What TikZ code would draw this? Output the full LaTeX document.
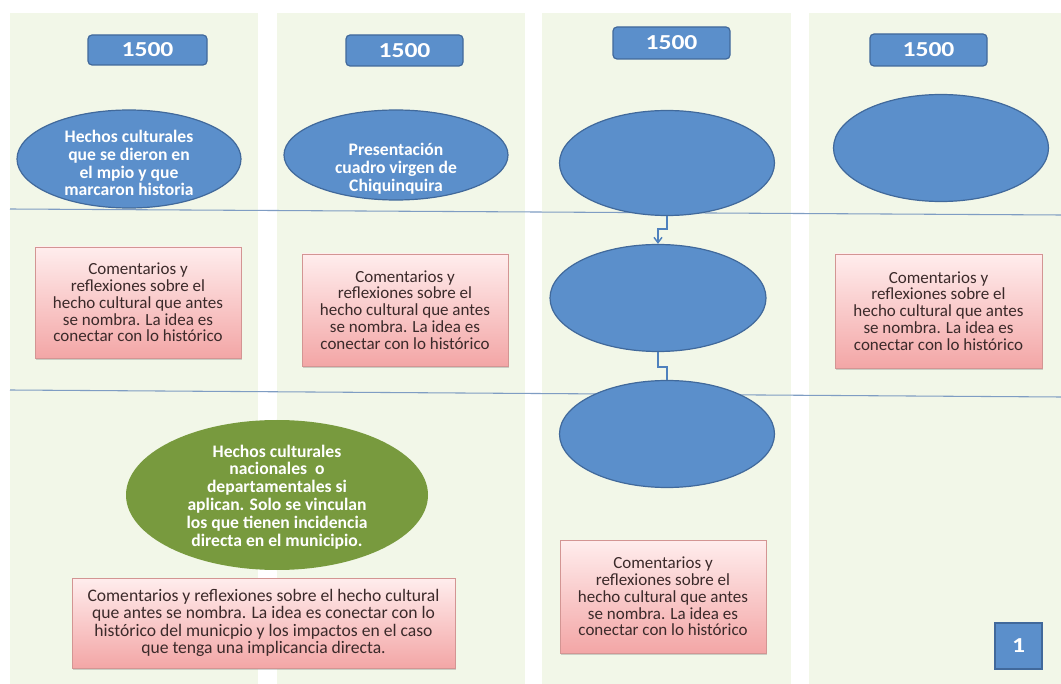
\documentclass[tikz,border=0pt]{standalone}
\usepackage{fontspec}
\setmainfont{Carlito}
\newfontfamily\yearfont{Carlito}[FakeStretch=1.2]
\usetikzlibrary{shapes.geometric,arrows.meta,shadows}
\definecolor{panelbg}{HTML}{F2F7E8}
\definecolor{bluefill}{HTML}{5B8FCB}
\definecolor{blueline}{HTML}{41699B}
\definecolor{greenfill}{HTML}{789A3E}
\definecolor{pinktop}{HTML}{FFEDED}
\definecolor{pinkbot}{HTML}{F3A6A6}
\definecolor{pinkline}{HTML}{D39593}
\definecolor{pinktext}{HTML}{3B2A2A}
\definecolor{sepline}{HTML}{7F9DC3}
\definecolor{connline}{HTML}{4F81BD}
\tikzset{
  yearbox/.style={draw=blueline, fill=bluefill, line width=0.9pt, rounded corners=3pt,
    text=white, font=\yearfont\bfseries\fontsize{16pt}{18pt}\selectfont, inner sep=0pt},
  blueell/.style={ellipse, draw=blueline, fill=bluefill, line width=0.9pt, inner sep=0pt},
  greenell/.style={ellipse, draw=none, fill=greenfill, inner sep=0pt},
  elltext/.style={text=white, font=\bfseries\fontsize{13.2pt}{13.4pt}\selectfont, align=center, inner sep=0pt},
  pinkbox/.style={draw=pinkline, line width=0.6pt, top color=pinktop, bottom color=pinkbot,
    text=pinktext, font=\fontsize{12.75pt}{12.6pt}\selectfont, align=center, inner sep=0pt,
    drop shadow={shadow xshift=0.8pt, shadow yshift=-1.2pt, opacity=0.35}},
  badge/.style={draw=blueline, fill=bluefill, line width=1pt, text=white,
    font=\yearfont\bfseries\fontsize{16pt}{18pt}\selectfont, inner sep=0pt,
    minimum width=35.25pt, minimum height=34.5pt},
  conn/.style={draw=connline, line width=1.1pt},
  sep/.style={draw=sepline, line width=0.8pt},
}
\begin{document}
\begin{tikzpicture}[x=0.75pt,y=-0.75pt]
\useasboundingbox (0,0) rectangle (1061,684);
\fill[white] (0,0) rectangle (1061,684);
% panels
\fill[panelbg] (10,13) rectangle (258,684);
\fill[panelbg] (277,13) rectangle (525,684);
\fill[panelbg] (542,13) rectangle (791,684);
\fill[panelbg] (809,13) rectangle (1061,684);
% separator lines
\draw[sep] (10,209) -- (1061,215);
\draw[sep] (10,390) -- (1061,397);
% year boxes
\node[yearbox, minimum width=89.25pt, minimum height=22.5pt] (Y1) at (147.5,50) {1500};
\node[yearbox, minimum width=87.75pt, minimum height=23.25pt] (Y2) at (404.5,50.5) {1500};
\node[yearbox, minimum width=87.75pt, minimum height=24pt] (Y3) at (671.5,43) {1500};
\node[yearbox, minimum width=87.75pt, minimum height=24pt] (Y4) at (928.5,50) {1500};
% top ellipses
\node[blueell, minimum width=168pt, minimum height=73.5pt] (E1) at (129,159) {};
\node[elltext] (E1t) at (129,163) {Hechos culturales\\que se dieron en\\el mpio y que\\marcaron historia};
\node[blueell, minimum width=168pt, minimum height=67.5pt] (E2) at (396,155) {};
\node[elltext] (E2t) at (396,169) {Presentación\\cuadro virgen de\\Chiquinquira};
\node[blueell, minimum width=161.25pt, minimum height=78.75pt] (E3a) at (667,163) {};
\node[blueell, minimum width=161.25pt, minimum height=80.25pt] (E4) at (941,148) {};
% column 3 chain
\node[blueell, minimum width=162pt, minimum height=80.25pt] (E3b) at (658,298) {};
\node[blueell, minimum width=161.25pt, minimum height=80.25pt] (E3c) at (667,434) {};
\draw[conn, -{Straight Barb[length=4pt,width=6pt]}] (E3a.south) -- ++(0,13) -| (E3b.north);
\draw[conn] (E3b.south) -- ++(0,15) -| (E3c.north);
% pink boxes
\node[pinkbox, minimum width=154.5pt, minimum height=83.25pt] (P1) at (138,302.5)
  {Comentarios y\\reflexiones sobre el\\hecho cultural que antes\\se nombra. La idea es\\conectar con lo histórico};
\node[pinkbox, minimum width=154.5pt, minimum height=84pt] (P2) at (405,310)
  {Comentarios y\\reflexiones sobre el\\hecho cultural que antes\\se nombra. La idea es\\conectar con lo histórico};
\node[pinkbox, minimum width=155.25pt, minimum height=85.5pt] (P4) at (938.5,311)
  {Comentarios y\\reflexiones sobre el\\hecho cultural que antes\\se nombra. La idea es\\conectar con lo histórico};
\node[pinkbox, minimum width=154.5pt, minimum height=84.75pt] (P3) at (663,596.5)
  {Comentarios y\\reflexiones sobre el\\hecho cultural que antes\\se nombra. La idea es\\conectar con lo histórico};
% green ellipse and wide box
\node[greenell, minimum width=226.5pt, minimum height=112.5pt] (G) at (277,495) {};
\node[elltext] (Gt) at (277,497) {Hechos culturales\\nacionales\ \ o\\departamentales si\\aplican. Solo se vinculan\\los que tienen incidencia\\directa en el municipio.};
\node[pinkbox, font=\fontsize{13.2pt}{13.2pt}\selectfont, minimum width=287.25pt, minimum height=67.5pt] (PW) at (263.5,623)
  {Comentarios y reflexiones sobre el hecho cultural\\que antes se nombra. La idea es conectar con lo\\histórico del municpio y los impactos en el caso\\que tenga una implicancia directa.};
% page badge
\node[badge] (B) at (1018.5,646) {1};
\end{tikzpicture}
\end{document}
